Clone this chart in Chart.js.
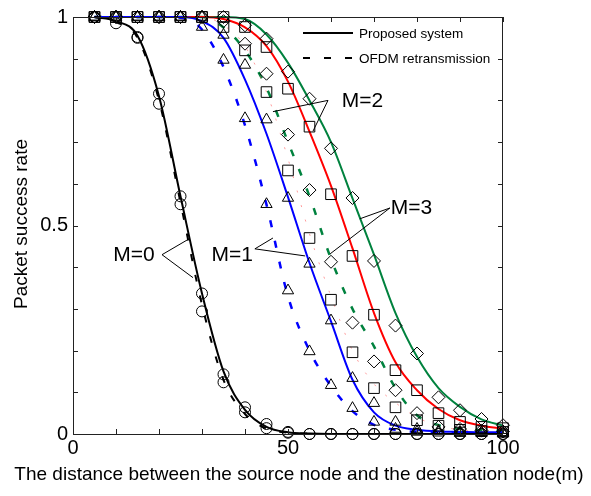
<!DOCTYPE html>
<html>
<head>
<meta charset="utf-8">
<title>Packet success rate vs distance</title>
<script src="https://cdn.jsdelivr.net/npm/chart.js@4.4.1/dist/chart.umd.min.js"></script>
<style>
  html, body { margin: 0; padding: 0; background: #fff; }
  #chart { display: block; }
</style>
</head>
<body>
<canvas id="chart" width="591" height="496"></canvas>
<script>
// distance (m) where results were taken
const distance = [5, 10, 15, 20, 25, 30, 35, 40, 45, 50, 55, 60, 65, 70, 75, 80, 85, 90, 95, 100];

// theory curves: proposed system (solid) / OFDM retransmission (dashed)
const m0Proposed = [1, 0.99, 0.955, 0.81, 0.57, 0.337, 0.15, 0.058, 0.017, 0.004, 0.001, 0, 0, 0, 0, 0, 0, 0, 0, 0];
const m0Ofdm     = [1, 0.988, 0.95, 0.80, 0.555, 0.31, 0.13, 0.048, 0.013, 0.003, 0.001, 0, 0, 0, 0, 0, 0, 0, 0, 0];
const m1Proposed = [1, 1, 1, 1, 1, 0.99, 0.95, 0.85, 0.72, 0.568, 0.41, 0.27, 0.13, 0.052, 0.02, 0.01, 0.006, 0.005, 0.004, 0.004];
const m1Ofdm     = [1, 1, 1, 1, 0.998, 0.97, 0.88, 0.74, 0.55, 0.33, 0.2, 0.115, 0.055, 0.022, 0.01, 0.005, 0.003, 0.002, 0.002, 0.002];
const m2Proposed = [1, 1, 1, 1, 1, 1, 0.995, 0.975, 0.93, 0.845, 0.725, 0.595, 0.445, 0.29, 0.172, 0.105, 0.06, 0.033, 0.02, 0.013];
const m2Ofdm     = [1, 1, 1, 1, 1, 1, 0.98, 0.93, 0.82, 0.66, 0.48, 0.33, 0.2, 0.12, 0.075, 0.04, 0.02, 0.01, 0.006, 0.004];
const m3Proposed = [1, 1, 1, 1, 1, 1, 1, 0.995, 0.958, 0.89, 0.80, 0.70, 0.565, 0.43, 0.29, 0.185, 0.11, 0.065, 0.035, 0.02];
const m3Ofdm     = [1, 1, 1, 1, 1, 1, 0.975, 0.92, 0.83, 0.70, 0.57, 0.42, 0.30, 0.21, 0.11, 0.045, 0.021, 0.012, 0.009, 0.007];

// simulation markers
const circlesProposed   = [1, 1, 0.952, 0.816, 0.57, 0.337, 0.143, 0.064, 0.024, 0.005, 0, 0, 0, 0, 0, 0, 0, 0, 0, 0];
const circlesOfdm       = [1, 0.985, 0.95, 0.792, 0.551, 0.294, 0.124, 0.052, 0.014, 0.003, 0, 0, 0, 0, 0, 0, 0, 0, 0, 0];
const trianglesProposed = [1, 1, 1, 1, 1, 1, 0.957, 0.885, 0.754, 0.566, 0.408, 0.272, 0.134, 0.074, 0.029, 0.012, 0.007, 0.005, 0.004, 0.004];
const trianglesOfdm     = [1, 1, 1, 1, 1, 0.976, 0.897, 0.757, 0.551, 0.344, 0.198, 0.117, 0.062, 0.029, 0.012, 0.005, 0.003, 0.002, 0.002, 0.002];
const squaresProposed   = [1, 1, 1, 1, 1, 1, 1, 0.976, 0.928, 0.828, 0.737, 0.575, 0.427, 0.286, 0.153, 0.105, 0.05, 0.029, 0.017, 0.014];
const squaresOfdm       = [1, 1, 1, 1, 1, 1, 0.976, 0.92, 0.82, 0.632, 0.47, 0.322, 0.196, 0.11, 0.064, 0.033, 0.02, 0.01, 0.007, 0.005];
const diamondsProposed  = [1, 1, 1, 1, 1, 1, 1, 0.98, 0.948, 0.869, 0.804, 0.685, 0.566, 0.415, 0.26, 0.193, 0.088, 0.057, 0.036, 0.021];
const diamondsOfdm      = [1, 1, 1, 1, 1, 1, 0.99, 0.936, 0.864, 0.718, 0.585, 0.413, 0.267, 0.174, 0.105, 0.05, 0.017, 0.012, 0.008, 0.006];

// axis ticks / labels
const xTickLabels = [0, 50, 100];
const yTickLabels = [0, 0.5, 1];
const legendLabels = ['Proposed system', 'OFDM retransmission'];
const xTitle = 'The distance between the source node and the destination node(m)';
const yTitle = 'Packet success rate';

// callouts: label, text spot, elbow, two arrow ends (data units)
const callouts = [
  { text: 'M=0', at: [14.2, 0.43], from: [20.7, 0.43], to: [[27.0, 0.468], [27.9, 0.375]] },
  { text: 'M=1', at: [37.0, 0.432], from: [42.3, 0.444], to: [[46.5, 0.47], [54.0, 0.427]] },
  { text: 'M=2', at: [67.3, 0.80], from: [59.3, 0.80], to: [[46.5, 0.773], [55.8, 0.726]] },
  { text: 'M=3', at: [78.7, 0.544], from: [73.7, 0.542], to: [[66.7, 0.516], [59.8, 0.432]] }
];

const FONT = "'Liberation Sans', Arial, Helvetica, sans-serif";
const GREEN = 'rgb(0,130,62)';

function pts(ys) {
  return distance.map(function(d, i) { return { x: d, y: ys[i] }; });
}

function curve(ys, color, dash, width) {
  return {
    data: pts(ys),
    showLine: true,
    borderColor: color,
    backgroundColor: color,
    borderWidth: width || 2,
    borderDash: dash || [],
    pointRadius: 0,
    cubicInterpolationMode: 'monotone',
    clip: false
  };
}

function marks(ys, style, r) {
  return {
    data: pts(ys),
    showLine: false,
    pointStyle: style,
    pointRadius: r,
    pointBorderWidth: 1,
    pointBorderColor: '#000',
    pointBackgroundColor: 'rgba(0,0,0,0)',
    clip: false
  };
}

// box, inward ticks, legend, callouts and axis titles
var frame = {
  id: 'frame',
  afterDraw: function(chart) {
    var c = chart.ctx, a = chart.chartArea;
    var xs = chart.scales.x, ys = chart.scales.y;
    c.save();
    c.strokeStyle = '#222';
    c.lineWidth = 1;
    c.strokeRect(a.left + 0.5, a.top + 0.5, a.right - a.left - 1, a.bottom - a.top);

    c.beginPath();
    for (var v = 0; v <= 100; v += 10) {
      var px = Math.round(xs.getPixelForValue(v)) + 0.5;
      c.moveTo(px, a.bottom); c.lineTo(px, a.bottom - 5);
      c.moveTo(px, a.top); c.lineTo(px, a.top + 5);
    }
    for (var k = 0; k <= 10; k++) {
      var py = Math.round(ys.getPixelForValue(k / 10)) + 0.5;
      c.moveTo(a.left, py); c.lineTo(a.left + 5, py);
      c.moveTo(a.right, py); c.lineTo(a.right - 5, py);
    }
    c.stroke();

    // legend
    c.fillStyle = '#000';
    c.font = '13.5px ' + FONT;
    c.textBaseline = 'middle';
    c.textAlign = 'left';
    c.lineWidth = 2;
    c.strokeStyle = '#000';
    c.beginPath(); c.setLineDash([]);
    c.moveTo(303, 33); c.lineTo(353, 33); c.stroke();
    c.beginPath(); c.setLineDash([7, 14]);
    c.moveTo(303, 58); c.lineTo(354, 58); c.stroke();
    c.setLineDash([]);
    c.fillText(legendLabels[0], 359, 34);
    c.fillText(legendLabels[1], 359, 59);

    // callouts
    c.lineWidth = 1;
    c.font = '21px ' + FONT;
    c.textAlign = 'center';
    callouts.forEach(function(m) {
      var fx = xs.getPixelForValue(m.from[0]), fy = ys.getPixelForValue(m.from[1]);
      c.beginPath();
      m.to.forEach(function(t) {
        c.moveTo(fx, fy);
        c.lineTo(xs.getPixelForValue(t[0]), ys.getPixelForValue(t[1]));
      });
      c.stroke();
      c.fillText(m.text, xs.getPixelForValue(m.at[0]), ys.getPixelForValue(m.at[1]) + 1);
    });

    // axis titles
    c.font = '19px ' + FONT;
    c.fillText(xTitle, 299, 475);
    c.save();
    c.translate(22, 224);
    c.rotate(-Math.PI / 2);
    c.font = '19px ' + FONT;
    c.fillText(yTitle, 0, 0);
    c.restore();
    c.restore();
  }
};

function near(v, list) {
  for (var i = 0; i < list.length; i++) {
    if (Math.abs(v - list[i]) < 1e-6) return String(list[i]);
  }
  return '';
}

var ctx = document.getElementById('chart');
new Chart(ctx, {
  type: 'scatter',
  data: {
    datasets: [
      marks(circlesProposed, 'circle', 5.5),
      marks(circlesOfdm, 'circle', 5.5),
      marks(trianglesProposed, 'triangle', 6.5),
      marks(trianglesOfdm, 'triangle', 6.5),
      marks(squaresProposed, 'rect', 7.5),
      marks(squaresOfdm, 'rect', 7.5),
      marks(diamondsProposed, 'rectRot', 6.5),
      marks(diamondsOfdm, 'rectRot', 6.5),
      curve(m0Proposed, '#000'),
      curve(m0Ofdm, '#000', [7, 14]),
      curve(m1Proposed, '#0000ff'),
      curve(m1Ofdm, '#0000ff', [7, 14], 2.5),
      curve(m2Proposed, '#ff0000'),
      curve(m2Ofdm, 'rgba(255,90,90,0.6)', [2, 13], 1),
      curve(m3Proposed, GREEN),
      curve(m3Ofdm, GREEN, [7, 14], 2.5)
    ]
  },
  options: {
    responsive: false,
    animation: false,
    events: [],
    layout: { padding: { top: 15, right: 88, left: 0, bottom: 0 } },
    plugins: {
      legend: { display: false },
      tooltip: { enabled: false }
    },
    scales: {
      x: {
        type: 'linear',
        min: 0,
        max: 100,
        grid: { display: false, drawTicks: false },
        border: { display: false },
        ticks: {
          stepSize: 10,
          autoSkip: false,
          maxRotation: 0,
          padding: 2,
          color: '#000',
          font: { family: FONT, size: 20 },
          callback: function(v) { return near(v, xTickLabels); }
        },
        afterFit: function(s) { s.height = 62; }
      },
      y: {
        type: 'linear',
        min: 0,
        max: 1,
        grid: { display: false, drawTicks: false },
        border: { display: false },
        ticks: {
          stepSize: 0.1,
          autoSkip: false,
          padding: 5,
          color: '#000',
          font: { family: FONT, size: 20 },
          callback: function(v) { return near(v, yTickLabels); }
        },
        afterFit: function(s) { s.width = 73; }
      }
    }
  },
  plugins: [frame]
});
</script>
</body>
</html>
